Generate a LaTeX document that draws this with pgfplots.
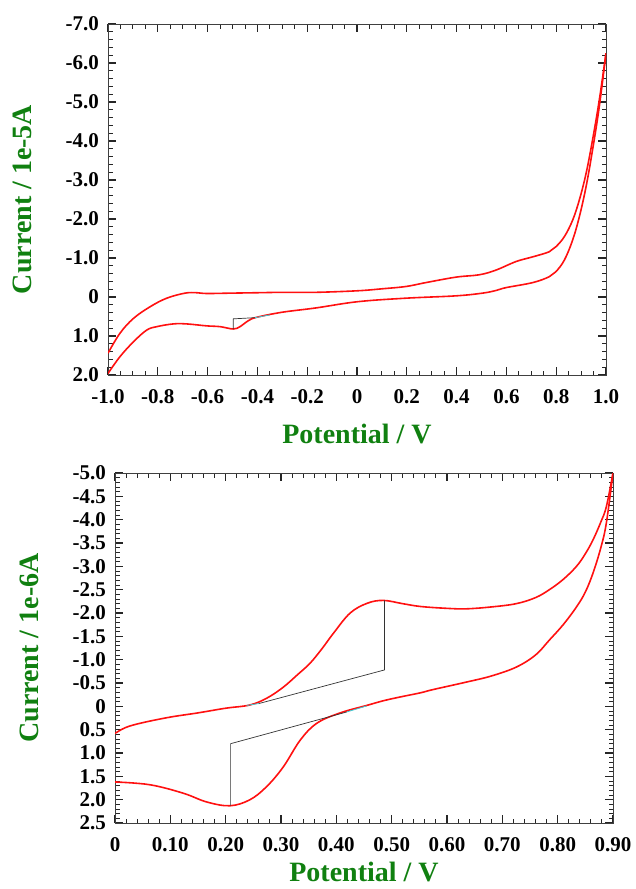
\documentclass[border=0pt]{standalone}
\usepackage{fontspec}
\setmainfont{Liberation Serif}
\usepackage{pgfplots}
\pgfplotsset{compat=1.18}
\definecolor{lblgreen}{RGB}{16,128,16}
\definecolor{cvred}{RGB}{255,16,16}
\definecolor{basecyan}{RGB}{60,200,210}
\pgfplotsset{cvstyle/.style={
  scale only axis, width=498pt,
  y dir=reverse,
  axis line style={black!75, line width=1pt},
  every major tick/.append style={black!85, line width=1.1pt},
  every minor tick/.append style={black!85, line width=0.9pt},
  major tick length=8pt, minor tick length=4.5pt,
  tick align=inside,
  tick label style={font=\fontsize{21}{21}\selectfont\bfseries},
  xticklabel style={anchor=center, inner sep=0pt, yshift=-22pt},
  yticklabel style={anchor=east, inner sep=0pt, xshift=-9pt},
  label style={font=\fontsize{28}{28}\selectfont\bfseries, text=lblgreen},
  minor y tick num=4,
}}
\begin{document}
\begin{tikzpicture}
\useasboundingbox (0,0) rectangle (636pt,-889pt);
% ---------------- top panel ----------------
\begin{axis}[cvstyle,
  at={(108pt,-375pt)}, anchor=south west, height=351pt,
  xmin=-1, xmax=1, ymin=-7, ymax=2,
  xtick={-1,-0.8,-0.6,-0.4,-0.2,0,0.2,0.4,0.6,0.8,1},
  xticklabels={-1.0,-0.8,-0.6,-0.4,-0.2,0,0.2,0.4,0.6,0.8,1.0},
  ytick={-7,-6,-5,-4,-3,-2,-1,0,1,2},
  yticklabels={-7.0,-6.0,-5.0,-4.0,-3.0,-2.0,-1.0,0,1.0,2.0},
  minor x tick num=3,
  xlabel={Potential / V}, ylabel={Current / 1e-5A},
  xlabel style={at={(axis description cs:0.5,-0.168)}, anchor=center},
  ylabel style={at={(axis description cs:-0.1727,0.5)}, anchor=center},
]
\addplot[cvred, line width=1.6pt, smooth, tension=0.6] coordinates {
(-1.0,1.44) (-0.952,0.93) (-0.898,0.55) (-0.831,0.25) (-0.764,0.03) (-0.69,-0.1)
(-0.644,-0.11) (-0.604,-0.09) (-0.5,-0.1) (-0.4,-0.11) (-0.3,-0.12) (-0.165,-0.12)
(0.003,-0.16) (0.1,-0.21) (0.197,-0.27) (0.277,-0.37) (0.398,-0.51) (0.491,-0.57)
(0.558,-0.69) (0.639,-0.91) (0.706,-1.03) (0.772,-1.16) (0.799,-1.29) (0.833,-1.55)
(0.866,-1.97) (0.893,-2.49) (0.92,-3.17) (0.946,-4.03) (0.973,-5.05) (1.0,-6.25)};
\addplot[cvred, line width=1.6pt, smooth, tension=0.6] coordinates {
(-1.0,1.96) (-0.952,1.53) (-0.898,1.15) (-0.845,0.85) (-0.804,0.76) (-0.738,0.69)
(-0.684,0.69) (-0.604,0.74) (-0.55,0.76) (-0.497,0.82) (-0.47,0.76) (-0.437,0.61)
(-0.403,0.52) (-0.3,0.39) (-0.165,0.28) (0.003,0.12) (0.197,0.03) (0.398,-0.03)
(0.505,-0.1) (0.56,-0.17) (0.598,-0.24) (0.706,-0.37) (0.772,-0.52) (0.799,-0.65) (0.833,-0.95)
(0.866,-1.46) (0.893,-2.06) (0.92,-2.83) (0.946,-3.77) (0.973,-4.88) (1.0,-6.25)};
\addplot[black!80, line width=0.7pt] coordinates {(-0.497,0.82) (-0.497,0.56) (-0.41,0.53)};
\addplot[basecyan, line width=0.8pt] coordinates {(-0.41,0.53) (-0.35,0.46)};
\end{axis}
% ---------------- bottom panel ----------------
\begin{axis}[cvstyle,
  at={(115pt,-823pt)}, anchor=south west, height=350pt,
  xmin=0, xmax=0.9, ymin=-5, ymax=2.5,
  xtick={0,0.1,0.2,0.3,0.4,0.5,0.6,0.7,0.8,0.9},
  xticklabels={0,0.10,0.20,0.30,0.40,0.50,0.60,0.70,0.80,0.90},
  ytick={-5,-4.5,-4,-3.5,-3,-2.5,-2,-1.5,-1,-0.5,0,0.5,1,1.5,2,2.5},
  yticklabels={-5.0,-4.5,-4.0,-3.5,-3.0,-2.5,-2.0,-1.5,-1.0,-0.5,0,0.5,1.0,1.5,2.0,2.5},
  minor x tick num=4,
  xlabel={Potential / V}, ylabel={Current / 1e-6A},
  xlabel style={at={(axis description cs:0.5,-0.14)}, anchor=center},
  ylabel style={at={(axis description cs:-0.1727,0.5)}, anchor=center},
]
\addplot[cvred, line width=1.6pt, smooth, tension=0.6] coordinates {
(0,0.58) (0.02,0.45) (0.05,0.35) (0.1,0.23) (0.15,0.14) (0.2,0.04) (0.244,-0.03)
(0.275,-0.18) (0.304,-0.41) (0.33,-0.68) (0.353,-0.93) (0.375,-1.25) (0.395,-1.57)
(0.425,-2.0) (0.456,-2.21) (0.485,-2.27) (0.52,-2.2) (0.552,-2.14) (0.6,-2.1)
(0.635,-2.09) (0.68,-2.13) (0.725,-2.2) (0.76,-2.33) (0.785,-2.5) (0.81,-2.72)
(0.834,-3.0) (0.85,-3.27) (0.864,-3.57) (0.878,-3.95) (0.888,-4.28) (0.9,-5.0)};
\addplot[cvred, line width=1.6pt, smooth, tension=0.6] coordinates {
(0,1.62) (0.063,1.68) (0.123,1.86) (0.166,2.05) (0.208,2.13) (0.244,2.0) (0.274,1.72)
(0.304,1.3) (0.335,0.72) (0.365,0.36) (0.407,0.14) (0.455,-0.02) (0.485,-0.12)
(0.515,-0.2) (0.552,-0.29) (0.575,-0.36) (0.635,-0.52) (0.68,-0.65) (0.725,-0.84)
(0.76,-1.1) (0.785,-1.42) (0.81,-1.75) (0.834,-2.13) (0.85,-2.45) (0.864,-2.86)
(0.878,-3.4) (0.888,-3.93) (0.9,-5.0)};
\addplot[black!80, line width=0.7pt] coordinates {(0.26,-0.06) (0.487,-0.78) (0.487,-2.27)};
\addplot[basecyan, line width=0.8pt] coordinates {(0.238,-0.02) (0.26,-0.06)};
\addplot[black!80, line width=0.7pt] coordinates {(0.209,2.13) (0.209,0.8) (0.419,0.12)};
\addplot[basecyan, line width=0.8pt] coordinates {(0.419,0.12) (0.455,-0.01)};
\end{axis}
\end{tikzpicture}
\end{document}
